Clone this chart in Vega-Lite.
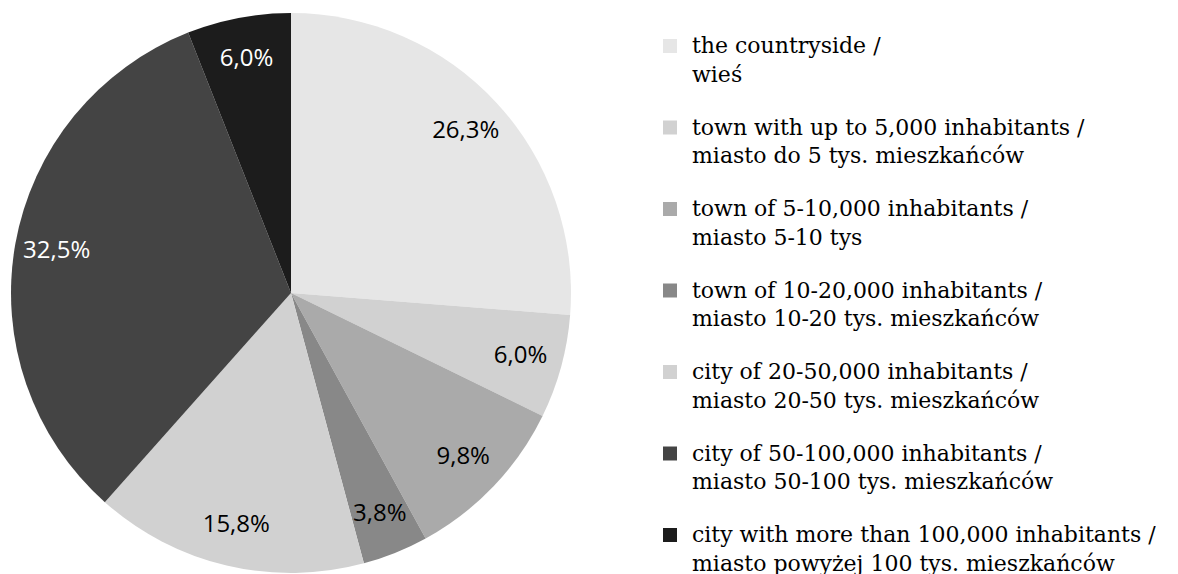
{
  "$schema": "https://vega.github.io/schema/vega-lite/v6.json",
  "width": 560,
  "height": 560,
  "padding": {"left": 11, "top": 13, "right": 0, "bottom": 0},
  "autosize": {"type": "pad"},
  "config": {
    "view": {"stroke": null},
    "locale": {"number": {"decimal": ",", "thousands": " ", "grouping": [3], "currency": ["", " zł"]}}
  },
  "data": {
    "values": [
      {"cat": "the countryside /|wieś", "share": 0.263, "rank": 1},
      {"cat": "town with up to 5,000 inhabitants /|miasto do 5 tys. mieszkańców", "share": 0.060, "rank": 2},
      {"cat": "town of 5-10,000 inhabitants /|miasto 5-10 tys", "share": 0.098, "rank": 3},
      {"cat": "town of 10-20,000 inhabitants /|miasto 10-20 tys. mieszkańców", "share": 0.038, "rank": 4},
      {"cat": "city of 20-50,000 inhabitants /|miasto 20-50 tys. mieszkańców", "share": 0.158, "rank": 5},
      {"cat": "city of 50-100,000 inhabitants /|miasto 50-100 tys. mieszkańców", "share": 0.325, "rank": 6},
      {"cat": "city with more than 100,000 inhabitants /|miasto powyżej 100 tys. mieszkańców", "share": 0.060, "rank": 7}
    ]
  },
  "encoding": {
    "theta": {"field": "share", "type": "quantitative", "stack": true},
    "order": {"field": "rank", "type": "quantitative"}
  },
  "layer": [
    {
      "mark": {"type": "arc"},
      "encoding": {
        "color": {
          "field": "cat",
          "type": "nominal",
          "sort": null,
          "scale": {
            "domain": [
              "the countryside /|wieś",
              "town with up to 5,000 inhabitants /|miasto do 5 tys. mieszkańców",
              "town of 5-10,000 inhabitants /|miasto 5-10 tys",
              "town of 10-20,000 inhabitants /|miasto 10-20 tys. mieszkańców",
              "city of 20-50,000 inhabitants /|miasto 20-50 tys. mieszkańców",
              "city of 50-100,000 inhabitants /|miasto 50-100 tys. mieszkańców",
              "city with more than 100,000 inhabitants /|miasto powyżej 100 tys. mieszkańców"
            ],
            "range": ["#e6e6e6", "#d1d1d1", "#aaaaaa", "#888888", "#d1d1d1", "#444444", "#1c1c1c"]
          },
          "legend": {
            "orient": "none",
            "legendX": 648,
            "legendY": 22,
            "title": null,
            "padding": 0,
            "symbolType": "square",
            "symbolSize": 196,
            "symbolStrokeWidth": 0,
            "symbolOpacity": 1,
            "labelFont": "DejaVu Serif",
            "labelFontSize": 22,
            "labelColor": "black",
            "labelLimit": 700,
            "labelOffset": 11,
            "labelBaseline": "alphabetic",
            "labelExpr": "split(datum.label, '|')",
            "rowPadding": 30.5,
            "encode": {"labels": {"update": {"lineHeight": {"value": 28.5}, "dy": {"value": 7}}}}
          }
        }
      }
    },
    {
      "mark": {"type": "text", "radius": 238, "font": "Open Sans", "fontSize": 24},
      "encoding": {
        "detail": {"field": "cat", "type": "nominal"},
        "text": {"field": "share", "type": "quantitative", "format": ".1%"},
        "color": {"condition": {"test": "datum.rank >= 6", "value": "white"}, "value": "black"}
      }
    }
  ]
}
